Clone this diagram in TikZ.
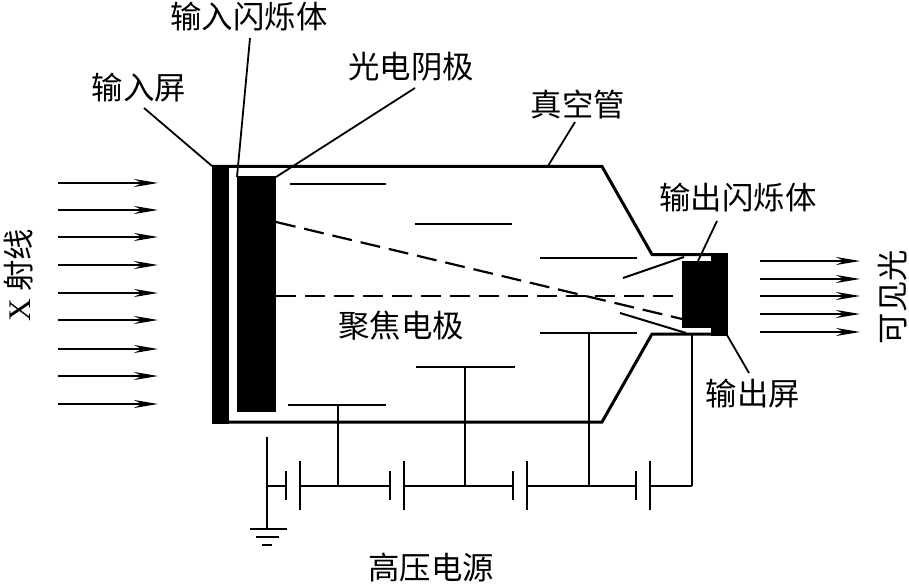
\documentclass[tikz,border=0pt]{standalone}
\usepackage{fontspec}
\setmainfont{Liberation Serif}
\newfontfamily\cjk{Noto Sans CJK SC}
\usetikzlibrary{arrows.meta}
\tikzset{
  x=1pt,y=-1pt,
  lbl/.style={inner sep=0pt,font=\fontsize{31.4}{31.4}\selectfont\cjk},
  tube/.style={line width=3pt,line join=miter},
  thin line/.style={line width=2pt},
  leader/.style={line width=1.8pt},
  ray/.style={line width=1.3pt,-{Stealth[length=24pt,width=8pt]}},
  beam/.style={line width=2.2pt,dash pattern=on 20pt off 9pt},
  solidfill/.style={fill=black,draw=none}
}
\begin{document}
\begin{tikzpicture}
\useasboundingbox (0,0) rectangle (909,585);
% tube
\draw[tube] (212,166.5) -- (602,166.5) -- (652,254.5) -- (715,254.5);
\draw[tube] (212,422) -- (602,422) -- (652,334) -- (715,334);
% input screen, cathode
\fill[solidfill] (212,165) rectangle (229,424);
\fill[solidfill] (237,176) rectangle (276,412);
% output
\fill[solidfill] (682,261) rectangle (712,328);
\fill[solidfill] (711,253) rectangle (728,335.5);
% electrodes
\foreach \a/\b/\c in {290/386/184,415/512/224,540/637/258,288/386/405,416/515/367,540/637/333}
  \draw[thin line] (\a,\c) -- (\b,\c);
% beams
\draw[beam] (276,222) -- (682,319);
\draw[beam] (276,296) -- (682,296);
\draw[thin line] (623,278) -- (684,257);
\draw[thin line] (620,313) -- (686,333);
% labels
\node[lbl] (inscreen) at (139,88) {输入屏};
\node[lbl] (inscint) at (249,17) {输入闪烁体};
\node[lbl] (cathode) at (411,67) {光电阴极};
\node[lbl] (vac) at (578,104) {真空管};
\node[lbl] (outscint) at (738,198) {输出闪烁体};
\node[lbl] (outscreen) at (753,394) {输出屏};
\node[lbl] (focus) at (401,326) {聚焦电极};
\node[lbl] (hv) at (431,568) {高压电源};
\node[lbl,rotate=90] (xray) at (19,275) {{\rmfamily X} 射线};
\node[lbl,rotate=90] (vis) at (892.5,297) {可见光};
\coordinate (a1) at (144,108); \coordinate (a2) at (212,166);
\coordinate (b1) at (250,38);  \coordinate (b2) at (237,177);
\coordinate (c1) at (415,88);  \coordinate (c2) at (276,177);
\coordinate (d1) at (575,122); \coordinate (d2) at (548,166);
\coordinate (e1) at (717,221); \coordinate (e2) at (698,261);
\coordinate (f1) at (749,373); \coordinate (f2) at (727,335);
\foreach \p/\q in {a1/a2,b1/b2,c1/c2,d1/d2,e1/e2,f1/f2}
  \draw[leader] (\p) -- (\q);
% X rays
\foreach \y in {183,210,237,265,293,320,349,376,404}
  \draw[ray] (58,\y) -- (158,\y);
\foreach \y in {261,279,296,314,332}
  \draw[ray] (760,\y) -- (860,\y);
% power supply
\foreach \x/\y in {338/405,465/367,589/333,692/334}
  \draw[thin line] (\x,\y) -- (\x,485.5);
\draw[thin line] (267,437) -- (267,529);
\foreach \a/\b in {267/286,300/390,404/513,527/636,650/692}
  \draw[thin line] (\a,485.5) -- (\b,485.5);
\foreach \x in {286,390,513,636}
  \draw[thin line] (\x,471) -- (\x,500);
\foreach \x in {300,404,527,650}
  \draw[thin line] (\x,461) -- (\x,510);
\draw[thin line] (250,529) -- (287,529);
\draw[thin line] (256,537) -- (279,537);
\draw[thin line] (262,545) -- (272,545);
\end{tikzpicture}
\end{document}
